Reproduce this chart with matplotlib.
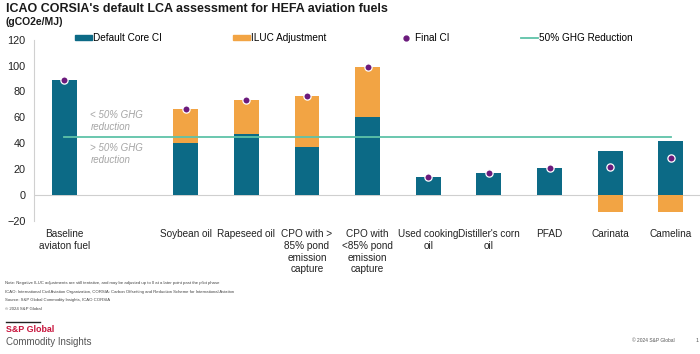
import numpy as np
import matplotlib
matplotlib.use('Agg')
import matplotlib.pyplot as plt
from matplotlib.patches import Patch
from matplotlib.lines import Line2D

plt.rcParams['font.family'] = ['Liberation Sans', 'DejaVu Sans']

# fuel pathways (slot 1 left empty to separate the baseline)
fuels = ['Baseline\naviaton fuel', 'Soybean oil', 'Rapeseed oil',
         'CPO with >\n85% pond\nemission\ncapture',
         'CPO with\n<85% pond\nemission\ncapture',
         'Used cooking\noil', "Distiller's corn\noil", 'PFAD', 'Carinata', 'Camelina']
slots = [0, 2, 3, 4, 5, 6, 7, 8, 9, 10]
core_ci = [89.0, 40.4, 47.4, 37.4, 60.0, 13.9, 17.2, 20.7, 34.4, 42.0]
iluc = [0.0, 25.8, 25.7, 39.1, 39.1, 0.0, 0.0, 0.0, -12.7, -13.4]
final_ci = [c + i for c, i in zip(core_ci, iluc)]
ghg_50 = 44.5

TEAL = '#0c6a86'
ORANGE = '#f2a444'
PURPLE = '#6b1a7c'
GREEN = '#5ec3a8'

fig = plt.figure(figsize=(7, 3.54), dpi=100)
ax = fig.add_axes([34/700, 1-221/354, 666/700, (221-39.6)/354])

x = np.array(slots, dtype=float)
core = np.array(core_ci)
adj = np.array(iluc)
w = 0.41
ax.bar(x, core, w, color=TEAL, zorder=2)
ax.bar(x, adj, w, bottom=np.where(adj > 0, core, 0), color=ORANGE, zorder=2)
ax.plot(x, final_ci, 'o', color=PURPLE, ms=5.2, mec='white', mew=0.9, ls='none', zorder=4)
ax.plot([x[0], x[-1]], [ghg_50, ghg_50], color=GREEN, lw=1.3, zorder=3)
ax.axhline(0, color='#cfcfcf', lw=0.8, zorder=1)

ax.text(0.43, 57, '< 50% GHG\nreduction', fontsize=7, style='italic', color='#a5a5a5',
        va='center', ha='left', linespacing=1.25)
ax.text(0.43, 32, '> 50% GHG\nreduction', fontsize=7, style='italic', color='#a5a5a5',
        va='center', ha='left', linespacing=1.25)

ax.set_xlim(-0.5, 10.48)
ax.set_ylim(-20, 120)
ax.set_yticks(range(-20, 121, 20))
ax.set_xticks(x)
ax.set_xticklabels(fuels, fontsize=7.2, color='#222222', linespacing=1.2, va='top')
ax.tick_params(length=0, colors='#222222')
ax.tick_params(axis='x', pad=6)
ax.tick_params(axis='y', pad=6, labelsize=7.8)
for s in ['top', 'right', 'bottom']:
    ax.spines[s].set_visible(False)
ax.spines['left'].set_color('#d0d0d0')
ax.spines['left'].set_linewidth(0.8)

handles = [Patch(color=TEAL), Patch(color=ORANGE),
           Line2D([], [], marker='o', ls='none', color=PURPLE, ms=3.5),
           Line2D([], [], color=GREEN, lw=1.3)]
labels = ['Default Core CI', 'ILUC Adjustment', 'Final CI', '50% GHG Reduction']
fig.legend(handles, labels, ncol=4, loc='center left', bbox_to_anchor=(75/700, 1-38/354),
           frameon=False, fontsize=7.2, handlelength=1.7, handleheight=0.45, handletextpad=0.1,
           columnspacing=7.1, borderpad=0, borderaxespad=0)

fig.text(6/700, 1-9/354, "ICAO CORSIA's default LCA assessment for HEFA aviation fuels",
         fontsize=9, fontweight='bold', color='#1a1a1a', va='center', ha='left')
fig.text(6/700, 1-22/354, '(gCO2e/MJ)', fontsize=7.5, fontweight='bold', color='#1a1a1a',
         va='center', ha='left')

notes = ['Note: Negative ILUC adjustments are still tentative, and may be adjusted up to 0 at a later point past the pilot phase',
         'ICAO: International Civil Aviation Organization, CORSIA: Carbon Offsetting and Reduction Scheme for International Aviation',
         'Source: S&P Global Commodity Insights, ICAO CORSIA',
         '\u00a9 2024 S&P Global']
for i, n in enumerate(notes):
    fig.text(5/700, 1-(283+8.7*i)/354, n, fontsize=3.1, color='#444444', va='center', ha='left')

fig.add_artist(Line2D([6/700, 40/700], [1-322/354, 1-322/354], color='#222222', lw=1.0))
fig.text(6/700, 1-330/354, 'S&P Global', fontsize=6.4, fontweight='bold', color='#c8143c',
         va='center', ha='left')
fig.text(6/700, 1-342/354, 'Commodity Insights', fontsize=7, color='#555555',
         va='center', ha='left')
fig.text(632/700, 1-341/354, '\u00a9 2024 S&P Global', fontsize=3.5, color='#555555',
         va='center', ha='left')
fig.text(697/700, 1-341/354, '1', fontsize=3.8, color='#555555', va='center', ha='center')

fig.savefig('out.png', dpi=100, facecolor='white')
